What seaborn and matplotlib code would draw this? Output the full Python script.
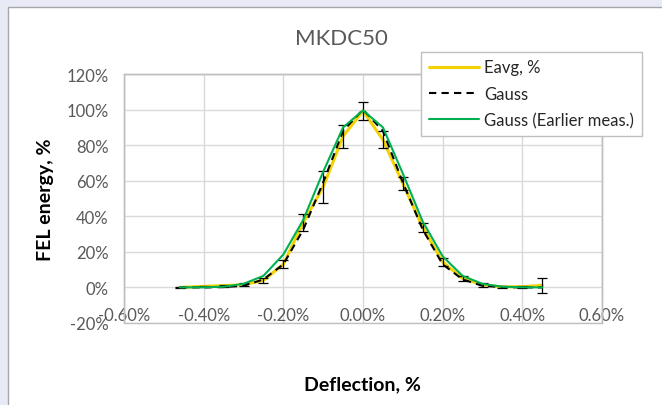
import numpy as np
import pandas as pd
import matplotlib
matplotlib.use("Agg")
import matplotlib.pyplot as plt
from matplotlib.patches import Rectangle
import seaborn as sns

# ---- data ----
deflection = [-0.46, -0.40, -0.35, -0.30, -0.25, -0.20, -0.15, -0.10, -0.05, 0.00,
              0.05, 0.10, 0.15, 0.20, 0.25, 0.30, 0.35, 0.40, 0.45]
eavg = [0.0, 0.6, 1.0, 1.5, 4.0, 13.0, 36.5, 56.5, 85.0, 99.3,
        83.0, 58.5, 33.7, 14.3, 5.0, 1.5, 0.3, 0.4, 1.2]
eavg_err = [0.3, 0.4, 0.5, 0.8, 1.5, 2.3, 4.8, 9.0, 6.5, 5.2,
            4.8, 3.6, 2.5, 2.3, 1.5, 1.0, 0.5, 0.5, 4.2]
gauss = [0.0, 0.0, 0.2, 0.9, 4.5, 13.0, 32.5, 59.0, 88.0, 100.0,
         88.0, 59.0, 32.5, 13.0, 4.5, 0.9, 0.2, 0.0, 0.0]
gauss_earlier = [0.0, 0.1, 0.4, 2.0, 6.5, 18.5, 38.0, 65.0, 90.0, 99.5,
                 90.0, 64.0, 37.0, 17.5, 6.5, 2.0, 0.4, 0.1, 0.0]
xticks = [-0.6, -0.4, -0.2, 0.0, 0.2, 0.4, 0.6]
xticklabels = ["-0.60%", "-0.40%", "-0.20%", "0.00%", "0.20%", "0.40%", "0.60%"]
yticks = [-20, 0, 20, 40, 60, 80, 100, 120]
yticklabels = ["-20%", "0%", "20%", "40%", "60%", "80%", "100%", "120%"]
title = "MKDC50"
xlabel = "Deflection, %"
ylabel = "FEL energy, %"

df = pd.DataFrame({"x": deflection, "eavg": eavg, "err": eavg_err,
                   "gauss": gauss, "gauss_earlier": gauss_earlier})

sns.set_theme(style="white")
plt.rcParams["font.family"] = ["Lato", "DejaVu Sans"]

W, H = 662, 406
fig = plt.figure(figsize=(W / 100, H / 100), dpi=100)
fig.patch.set_facecolor("#E8EAF6")
# white chart area with border
bg = Rectangle((8 / W, -0.1), 1.1, 1 - 8 / H + 0.1, transform=fig.transFigure,
               facecolor="white", edgecolor="#A6A6A6", linewidth=1.0, zorder=-10)
fig.patches.append(bg)

ax = fig.add_axes([124 / W, 1 - 324 / H, (602 - 124) / W, (324 - 75) / H])
ax.set_zorder(5)
ax.set_facecolor("white")

yellow = "#F2D200"
green = "#00B050"

ax.errorbar(df["x"], df["eavg"], yerr=df["err"], fmt="none", ecolor="black",
            elinewidth=0.9, capsize=3.5, capthick=0.9, zorder=3)
sns.lineplot(data=df, x="x", y="eavg", ax=ax, color=yellow, linewidth=2.2,
             label="Eavg, %", zorder=2, sort=False)
sns.lineplot(data=df, x="x", y="gauss", ax=ax, color="black", linewidth=1.5,
             label="Gauss", zorder=4, sort=False)
ax.lines[-1].set_dashes([3.5, 2.5])
sns.lineplot(data=df, x="x", y="gauss_earlier", ax=ax, color=green, linewidth=1.5,
             label="Gauss (Earlier meas.)", zorder=5, sort=False)

ax.set_xlim(-0.6, 0.6)
ax.set_ylim(-20, 120)
ax.set_xticks(xticks)
ax.set_xticklabels(xticklabels)
ax.set_yticks(yticks)
ax.set_yticklabels(yticklabels)
ax.grid(True, color="#D9D9D9", linewidth=1.0)
ax.set_axisbelow(True)
for s in ["top", "left", "right"]:
    ax.spines[s].set_color("#BFBFBF")
    ax.spines[s].set_linewidth(1.0)
# x tick labels sit at the 0% crossing, like the Excel chart
ax.spines["bottom"].set_position(("data", 0))
ax.spines["bottom"].set_visible(False)
ax.add_patch(Rectangle((0, 0), 1, 1, transform=ax.transAxes, fill=False,
                       edgecolor="#BFBFBF", linewidth=1.0, zorder=1, clip_on=False))
ax.tick_params(axis="both", length=0, labelsize=12, labelcolor="#595959")
ax.tick_params(axis="x", pad=14)
ax.tick_params(axis="y", pad=11)

ax.set_xlabel("")
ax.set_ylabel("")
fig.text(362 / W, 1 - 385 / H, xlabel, ha="center", va="center",
         fontsize=14, fontweight="bold", color="black")
fig.text(45 / W, 1 - 200 / H, ylabel, ha="center", va="center", rotation=90,
         fontsize=14, fontweight="bold", color="black")
fig.text(341 / W, 1 - 39 / H, title, ha="center", va="center",
         fontsize=16, color="#595959")

handles, labels = ax.get_legend_handles_labels()
leg = ax.legend(handles, labels, loc="upper left",
                bbox_to_anchor=(421 / W, 1 - 53 / H), bbox_transform=fig.transFigure,
                frameon=True, fancybox=False, fontsize=12, handlelength=3.0,
                borderpad=0.45, labelspacing=0.62, handletextpad=0.35,
                borderaxespad=0, edgecolor="#BFBFBF", framealpha=1)
leg.get_frame().set_linewidth(1.0)
leg.set_zorder(10)

fig.savefig("out.png", dpi=100, facecolor=fig.get_facecolor())
